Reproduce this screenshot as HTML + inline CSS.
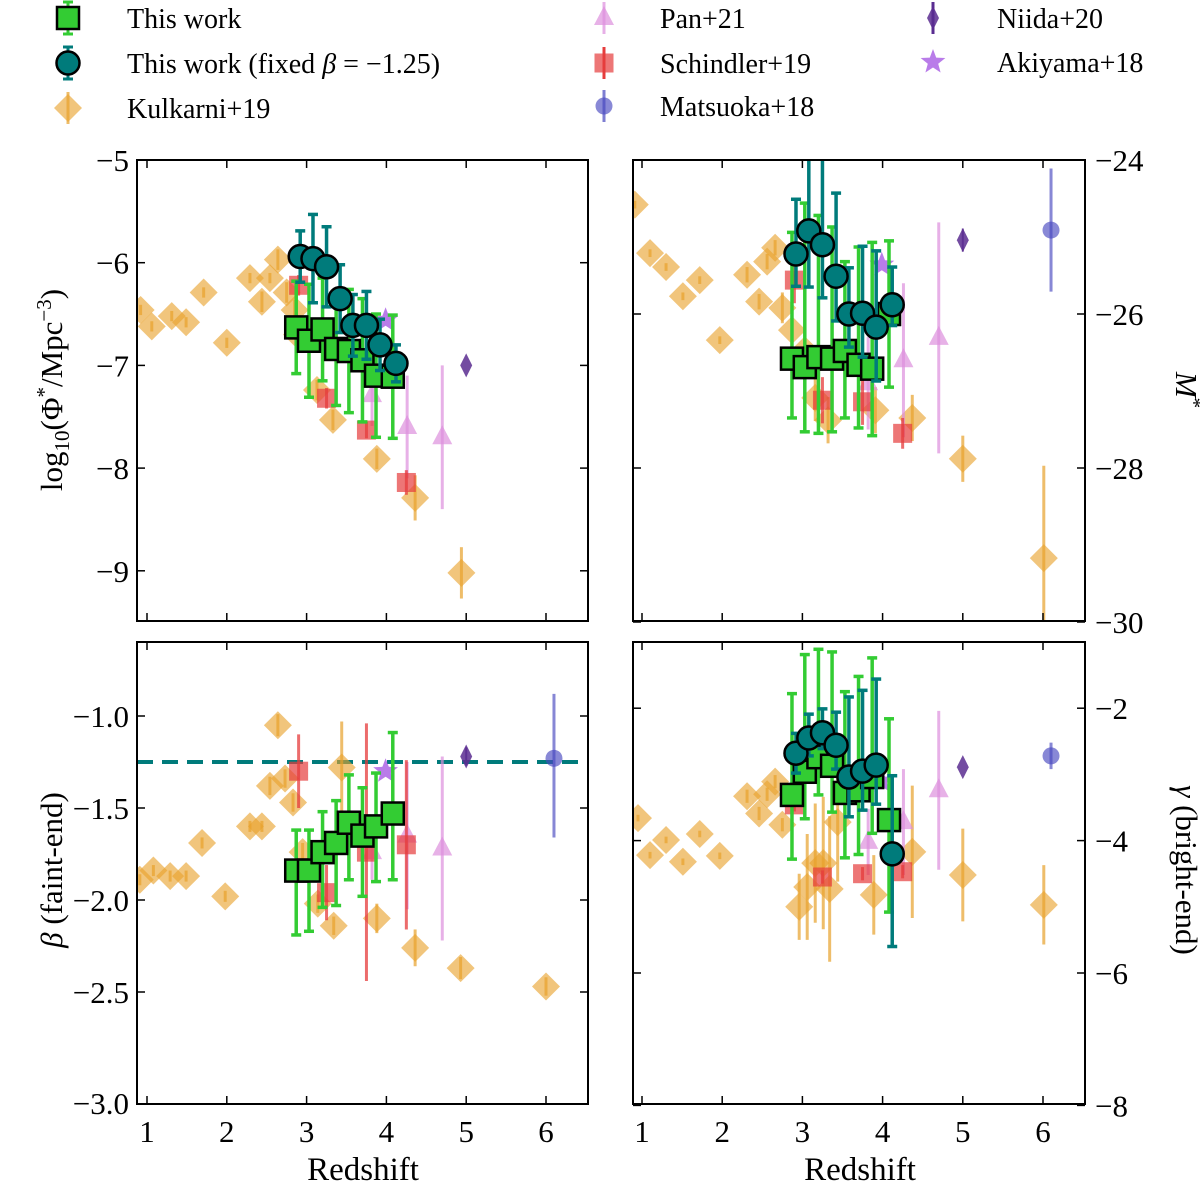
<!DOCTYPE html>
<html><head><meta charset="utf-8">
<style>
html,body{margin:0;padding:0;background:#fff;}
svg{display:block;font-family:"Liberation Serif","DejaVu Serif",serif;}
</style></head>
<body>
<svg id="chart" width="1200" height="1185" viewBox="0 0 1200 1185" xmlns="http://www.w3.org/2000/svg">
<defs>
<clipPath id="c-tl"><rect x="137" y="160" width="451" height="461"/></clipPath>
<clipPath id="c-tr"><rect x="633" y="160" width="452" height="461"/></clipPath>
<clipPath id="c-bl"><rect x="137" y="642" width="451" height="462"/></clipPath>
<clipPath id="c-br"><rect x="633" y="642" width="452" height="462"/></clipPath>
</defs>
</svg>
<script>
// ---------- data ----------
const zSq = [2.87,3.03,3.2,3.37,3.53,3.7,3.87,4.08];
const zCi = [2.92,3.08,3.25,3.42,3.58,3.75,3.92,4.12];
const phiSq = [-6.63,-6.76,-6.65,-6.84,-6.86,-6.95,-7.10,-7.11];
const phiSqErr = [0.45,0.55,0.5,0.55,0.6,0.6,0.6,0.6];
const phiCi = [-5.94,-5.96,-6.04,-6.35,-6.61,-6.61,-6.80,-6.98];
const phiCiErr = [0.25,0.43,0.39,0.33,0.3,0.33,0.25,0.18];
const mSq = [-26.58,-26.69,-26.56,-26.58,-26.48,-26.66,-26.71,-26.0];
const mSqUp = [1.64,2.13,1.84,1.71,1.16,1.53,1.64,0.95];
const mSqDn = [0.77,0.84,0.99,0.95,0.87,0.82,0.87,0.95];
const mCi = [-25.22,-24.92,-25.10,-25.51,-26.0,-25.99,-26.17,-25.88];
const mCiUp = [0.71,1.3,1.3,1.08,0.6,0.87,0.99,0.49];
const mCiDn = [0.42,0.73,0.69,0.58,0.43,0.57,0.7,0.27];
const bSq = [-1.84,-1.84,-1.74,-1.69,-1.58,-1.65,-1.60,-1.53];
const bSqUp = [0.22,0.22,0.22,0.23,0.26,0.26,0.29,0.44];
const bSqDn = [0.35,0.33,0.30,0.34,0.31,0.33,0.30,0.36];
const gSq = [-3.31,-2.96,-2.74,-2.87,-3.28,-3.24,-3.04,-3.69];
const gSqUp = [1.53,1.77,1.63,1.72,1.53,1.72,1.80,1.53];
const gSqDn = [0.97,0.71,0.57,0.70,0.98,0.97,0.85,1.39];
const gCi = [-2.68,-2.45,-2.37,-2.56,-3.04,-2.95,-2.86,-4.20];
const gCiUp = [0.30,0.36,0.36,0.50,1.21,1.22,1.30,1.18];
const gCiDn = [0.30,0.27,0.24,0.36,0.60,0.59,0.59,1.40];
const fixedBeta = -1.25;

const kZphi = [0.92,1.06,1.31,1.49,1.71,2.0,2.29,2.44,2.54,2.64,2.75,2.85,2.88,3.13,3.33,3.88,4.36,4.94];
const kPhi = [-6.46,-6.62,-6.52,-6.58,-6.29,-6.78,-6.15,-6.38,-6.15,-5.97,-6.29,-6.46,-6.70,-7.24,-7.53,-7.91,-8.29,-9.02];
const kPhiErr = [0.05,0.05,0.05,0.05,0.05,0.05,0.05,0.1,0.05,0.1,0.1,0.1,0.1,0.1,0.1,0.1,0.22,0.25];
const kZm = [0.91,1.1,1.3,1.51,1.72,1.97,2.31,2.46,2.56,2.66,2.75,2.87,3.03,3.16,3.32,3.91,4.37,5.0,6.01];
const kM = [-24.58,-25.21,-25.39,-25.77,-25.56,-26.34,-25.49,-25.84,-25.32,-25.14,-25.92,-26.21,-26.47,-27.09,-27.38,-27.25,-27.35,-27.88,-29.17];
const kMErr = [0.05,0.05,0.05,0.05,0.05,0.05,0.1,0.1,0.1,0.1,0.2,0.3,0.5,0.3,0.3,0.3,0.3,0.3,1.2];
const kZb = [0.91,1.08,1.29,1.49,1.69,1.98,2.29,2.44,2.54,2.64,2.73,2.83,2.95,3.14,3.34,3.44,3.88,4.36,4.93,6.0];
const kB = [-1.89,-1.84,-1.87,-1.87,-1.69,-1.98,-1.60,-1.60,-1.38,-1.05,-1.34,-1.47,-1.74,-2.02,-2.14,-1.28,-2.10,-2.26,-2.37,-2.47];
const kBErr = [0.03,0.03,0.03,0.03,0.03,0.03,0.03,0.03,0.05,0.06,0.05,0.05,0.05,0.05,0.05,0.25,0.08,0.1,0.06,0.05];
const kZg = [0.95,1.1,1.3,1.51,1.72,1.97,2.31,2.46,2.56,2.66,2.75,2.96,3.06,3.16,3.26,3.34,3.44,3.89,4.37,5.0,6.01];
const kG = [-3.66,-4.22,-3.99,-4.32,-3.90,-4.23,-3.33,-3.59,-3.30,-3.11,-3.76,-5.0,-4.70,-4.34,-4.34,-4.73,-3.72,-4.82,-4.17,-4.52,-4.97];
const kGErr = [0.05,0.05,0.05,0.05,0.05,0.05,0.1,0.1,0.1,0.1,0.1,0.5,0.8,0.9,1.0,1.1,0.9,0.6,1.0,0.7,0.6];

const sZ = [2.9,3.25,3.75,4.25];
const sPhi = [-6.22,-7.32,-7.63,-8.14];
const sPhiErr = [0.1,0.1,0.08,0.12];
const sM = [-25.56,-27.12,-27.14,-27.55];
const sMErr = [0.3,0.3,0.3,0.2];
const sB = [-1.30,-1.96,-1.74,-1.70];
const sBErr = [0.2,0.15,0.7,0.46];
const sG = [-3.46,-4.55,-4.50,-4.47];
const sGErr = [0.1,0.1,0.1,0.1];

const pZ = [3.82,4.26,4.7];
const pPhi = [-7.29,-7.6,-7.7];
const pPhiErr = [0.3,0.5,0.7];
const pM = [-26.9,-26.6,-26.31];
const pMErr = [0.6,1.0,1.5];
const pB = [-1.74,-1.65,-1.72];
const pBErr = [0.15,0.4,0.5];
const pG = [-4.02,-3.72,-3.24];
const pGErr = [0.5,0.8,1.2];

const nZ = [5.0]; const nPhi = [-7.0]; const nM = [-25.04]; const nB = [-1.22]; const nG = [-2.89];
const aZ = [3.99]; const aPhi = [-6.56]; const aM = [-25.36]; const aB = [-1.30]; const aG = [-3.1];
const mtZ = [6.1]; const mtM = [-24.91]; const mtMErr = [0.8]; const mtB = [-1.23]; const mtBErrUp = [0.35]; const mtBErrDn = [0.43]; const mtG = [-2.72]; const mtGErr = [0.2];

// ---------- scales ----------
const NS = "http://www.w3.org/2000/svg";
const svg = document.getElementById('chart');
function xL(z){return 147 + (z-1)*79.8;}
function xR(z){return 642 + (z-1)*80.2;}
const P = {
 tl:{x:xL, y:v=>160+(-5-v)*102.7, k:102.7, x0:137,x1:588,y0:160,y1:621},
 tr:{x:xR, y:v=>160+(-24-v)*77, k:77, x0:633,x1:1085,y0:160,y1:621},
 bl:{x:xL, y:v=>716+(-1-v)*184, k:184, x0:137,x1:588,y0:642,y1:1104},
 br:{x:xR, y:v=>642+(-1-v)*66.2, k:66.2, x0:633,x1:1085,y0:642,y1:1104}
};
function el(tag, attrs, parent){
 const e=document.createElementNS(NS,tag);
 for(const k in attrs) e.setAttribute(k,attrs[k]);
 (parent||svg).appendChild(e); return e;
}
const groups = {};
for(const id of ['tl','tr','bl','br']){
 const g = el('g',{'clip-path':'url(#c-'+id+')'});
 
 
 groups[id]=g;
}
function errbar(g, x, y, up, dn, color, w, cap, op){
 const l = el('line',{x1:x,x2:x,y1:y-up,y2:y+dn,stroke:color,'stroke-width':w,opacity:op},g);
 
 
 if(cap){
  el('line',{x1:x-cap,x2:x+cap,y1:y-up,y2:y-up,stroke:color,'stroke-width':w,opacity:op},g);
  el('line',{x1:x-cap,x2:x+cap,y1:y+dn,y2:y+dn,stroke:color,'stroke-width':w,opacity:op},g);
 }
}
function marker(g, type, x, y, name){
 let m;
 if(type==='sq') m=el('rect',{x:x-11,y:y-11,width:22,height:22,fill:'#33cc33',stroke:'#000','stroke-width':2.5},g);
 else if(type==='ci') m=el('circle',{cx:x,cy:y,r:11.5,fill:'#007b7b',stroke:'#000','stroke-width':2.5},g);
 else if(type==='di') m=el('polygon',{points:`${x},${y-14} ${x+14},${y} ${x},${y+14} ${x-14},${y}`,fill:'#e8a22c',opacity:0.62},g);
 else if(type==='rs') m=el('rect',{x:x-9.5,y:y-9.5,width:19,height:19,fill:'#e63c3c',opacity:0.7},g);
 else if(type==='tri') m=el('polygon',{points:`${x},${y-12} ${x+10},${y+7} ${x-10},${y+7}`,fill:'#dd90dd',opacity:0.7},g);
 else if(type==='thin') m=el('polygon',{points:`${x},${y-12} ${x+6},${y} ${x},${y+12} ${x-6},${y}`,fill:'#5a2d91',opacity:0.85},g);
 else if(type==='star'){
  let pts=[];for(let i=0;i<10;i++){const r=i%2?5.5:13;const a=-Math.PI/2+i*Math.PI/5;pts.push((x+r*Math.cos(a)).toFixed(1)+','+(y+r*Math.sin(a)).toFixed(1));}
  m=el('polygon',{points:pts.join(' '),fill:'#9b45e0',opacity:0.7},g);
 }
 else if(type==='bc') m=el('circle',{cx:x,cy:y,r:8.5,fill:'#4848c0',opacity:0.65},g);
 
 
 return m;
}
function series(id, zs, vs, up, dn, type, name, ecol, ew, cap, eop){
 const p=P[id], g=groups[id];
 for(let i=0;i<zs.length;i++){
  const x=p.x(zs[i]), y=p.y(vs[i]);
  if(up) errbar(g,x,y,up[i]*p.k,(dn?dn[i]:up[i])*p.k,ecol,ew,cap,eop);
 }
 for(let i=0;i<zs.length;i++) marker(g,type,p.x(zs[i]),p.y(vs[i]),name);
}
{
 const p=P.bl;
 const d=el('line',{x1:p.x0,x2:p.x1,y1:p.y(fixedBeta),y2:p.y(fixedBeta),stroke:'#007b7b','stroke-width':4,'stroke-dasharray':'16,9'},groups.bl);
 
 
}
const ORG='#e8a22c';
series('tl',kZphi,kPhi,kPhiErr,null,'di','kulkarni19-point',ORG,3,0,0.7);
series('tr',kZm,kM,kMErr,null,'di','kulkarni19-point',ORG,3,0,0.7);
series('bl',kZb,kB,kBErr,null,'di','kulkarni19-point',ORG,3,0,0.7);
series('br',kZg,kG,kGErr,null,'di','kulkarni19-point',ORG,3,0,0.7);
series('tl',pZ,pPhi,pPhiErr,null,'tri','pan21-point','#dd90dd',3,0,0.7);
series('tr',pZ,pM,pMErr,null,'tri','pan21-point','#dd90dd',3,0,0.7);
series('bl',pZ,pB,pBErr,null,'tri','pan21-point','#dd90dd',3,0,0.7);
series('br',pZ,pG,pGErr,null,'tri','pan21-point','#dd90dd',3,0,0.7);
series('tl',sZ,sPhi,sPhiErr,null,'rs','schindler19-point','#e63c3c',3,0,0.75);
series('tr',sZ,sM,sMErr,null,'rs','schindler19-point','#e63c3c',3,0,0.75);
series('bl',sZ,sB,sBErr,null,'rs','schindler19-point','#e63c3c',3,0,0.75);
series('br',sZ,sG,sGErr,null,'rs','schindler19-point','#e63c3c',3,0,0.75);
series('tl',nZ,nPhi,null,null,'thin','niida20-point');
series('tr',nZ,nM,[0.15],null,'thin','niida20-point','#5a2d91',2,0,0.85);
series('bl',nZ,nB,[0.05],null,'thin','niida20-point','#5a2d91',2,0,0.85);
series('br',nZ,nG,null,null,'thin','niida20-point');
series('tl',aZ,aPhi,null,null,'star','akiyama18-point');
series('tr',aZ,aM,null,null,'star','akiyama18-point');
series('bl',aZ,aB,null,null,'star','akiyama18-point');
series('br',aZ,aG,null,null,'star','akiyama18-point');
series('tr',mtZ,mtM,mtMErr,null,'bc','matsuoka18-point','#4848c0',3,0,0.65);
series('bl',mtZ,mtB,mtBErrUp,mtBErrDn,'bc','matsuoka18-point','#4848c0',3,0,0.65);
series('br',mtZ,mtG,mtGErr,null,'bc','matsuoka18-point','#4848c0',3,0,0.65);
const GR='#33cc33', TE='#007b7b';
series('tl',zSq,phiSq,phiSqErr,null,'sq','this-work-point',GR,3.5,5,1);
series('tl',zCi,phiCi,phiCiErr,null,'ci','this-work-fixed-beta-point',TE,3.5,5,1);
series('tr',zSq,mSq,mSqUp,mSqDn,'sq','this-work-point',GR,3.5,5,1);
series('tr',zCi,mCi,mCiUp,mCiDn,'ci','this-work-fixed-beta-point',TE,3.5,5,1);
series('bl',zSq,bSq,bSqUp,bSqDn,'sq','this-work-point',GR,3.5,5,1);
series('br',zSq,gSq,gSqUp,gSqDn,'sq','this-work-point',GR,3.5,5,1);
series('br',zCi,gCi,gCiUp,gCiDn,'ci','this-work-fixed-beta-point',TE,3.5,5,1);

// ---------- axes ----------
const xTicks=[1,2,3,4,5,6];
const xTickLabels=['1','2','3','4','5','6'];
const yTicks={tl:[-5,-6,-7,-8,-9],tr:[-24,-26,-28,-30],bl:[-1.0,-1.5,-2.0,-2.5],br:[-2,-4,-6,-8]};
const yTickLabels={tl:['−5','−6','−7','−8','−9'],tr:['−24','−26','−28','−30'],bl:['−1.0','−1.5','−2.0','−2.5'],br:['−2','−4','−6','−8']};
function text(x,y,s,anchor,size,name,extra){
 const t=el('text',Object.assign({x:x,y:y,'text-anchor':anchor,'font-size':size,fill:'#000'},extra||{}));
 t.textContent=s;
 
 
 return t;
}
for(const id of ['tl','tr','bl','br']){
 const p=P[id];
 const f=el('rect',{x:p.x0,y:p.y0,width:p.x1-p.x0,height:p.y1-p.y0,fill:'none',stroke:'#000','stroke-width':2});
 
 
 xTicks.forEach((z,i)=>{
  const x=p.x(z);
  el('line',{x1:x,x2:x,y1:p.y1,y2:p.y1-8,stroke:'#000','stroke-width':1.5});
  el('line',{x1:x,x2:x,y1:p.y0,y2:p.y0+8,stroke:'#000','stroke-width':1.5});
  if(id==='bl'||id==='br') text(x,p.y1+38,xTickLabels[i],'middle',31,'x-tick-label');
 });
 yTicks[id].forEach((v,i)=>{
  const y=p.y(v);
  el('line',{x1:p.x0,x2:p.x0+8,y1:y,y2:y,stroke:'#000','stroke-width':1.5});
  el('line',{x1:p.x1,x2:p.x1-8,y1:y,y2:y,stroke:'#000','stroke-width':1.5});
  if(id==='tl'||id==='bl') text(p.x0-8,y+11,yTickLabels[id][i],'end',31,'y-tick-label');
  else text(p.x1+10,y+11,yTickLabels[id][i],'start',31,'y-tick-label');
 });
}
text(129,1114,'−3.0','end',31,'y-tick-label');
text(363,1180,'Redshift','middle',33,'x-axis-title-left');
text(860,1180,'Redshift','middle',33,'x-axis-title-right');
{
 const t=el('text',{x:0,y:0,'text-anchor':'middle','font-size':31,transform:'translate(62,390) rotate(-90)'});
 t.innerHTML='log<tspan font-size="21" dy="7">10</tspan><tspan dy="-7">(Φ</tspan><tspan font-size="21" dy="-11">*</tspan><tspan dy="11">/Mpc</tspan><tspan font-size="21" dy="-11">−3</tspan><tspan dy="11">)</tspan>';
 
 
 const t2=el('text',{x:0,y:0,'text-anchor':'middle','font-size':31,transform:'translate(1176,390) rotate(90)'});
 t2.innerHTML='<tspan font-style="italic">M</tspan><tspan font-size="21" dy="-11">*</tspan>';
 
 
 const t3=el('text',{x:0,y:0,'text-anchor':'middle','font-size':31,transform:'translate(62,870) rotate(-90)'});
 t3.innerHTML='<tspan font-style="italic">β</tspan> (faint-end)';
 
 
 const t4=el('text',{x:0,y:0,'text-anchor':'middle','font-size':31,transform:'translate(1176,870) rotate(90)'});
 t4.innerHTML='<tspan font-style="italic">γ</tspan> (bright-end)';
 
 
}
// ---------- legend ----------
const lg=el('g',{});


function legendItem(mx,my,type,ecol,cap,label,tx,name){
 if(ecol) errbar(lg,mx,my,16,16,ecol,3,cap,type==='di'||type==='bc'||type==='tri'?0.7:1);
 marker(lg,type,mx,my,name+'-marker');
 const t=text(tx,my+10,'','start',28,name+'-label');
 t.innerHTML=label;
}
legendItem(68,18,'sq',GR,5,'This work',127,'legend-this-work');
legendItem(68,63,'ci',TE,5,'This work (fixed <tspan font-style="italic">β</tspan> = −1.25)',127,'legend-this-work-fixed');
legendItem(68,108,'di',ORG,0,'Kulkarni+19',127,'legend-kulkarni19');
legendItem(604,18,'tri','#dd90dd',0,'Pan+21',660,'legend-pan21');
legendItem(604,63,'rs','#e63c3c',0,'Schindler+19',660,'legend-schindler19');
legendItem(604,106,'bc','#4848c0',0,'Matsuoka+18',660,'legend-matsuoka18');
legendItem(933,18,'thin','#5a2d91',0,'Niida+20',997,'legend-niida20');
legendItem(933,62,'star',null,0,'Akiyama+18',997,'legend-akiyama18');
</script>
</body></html>
